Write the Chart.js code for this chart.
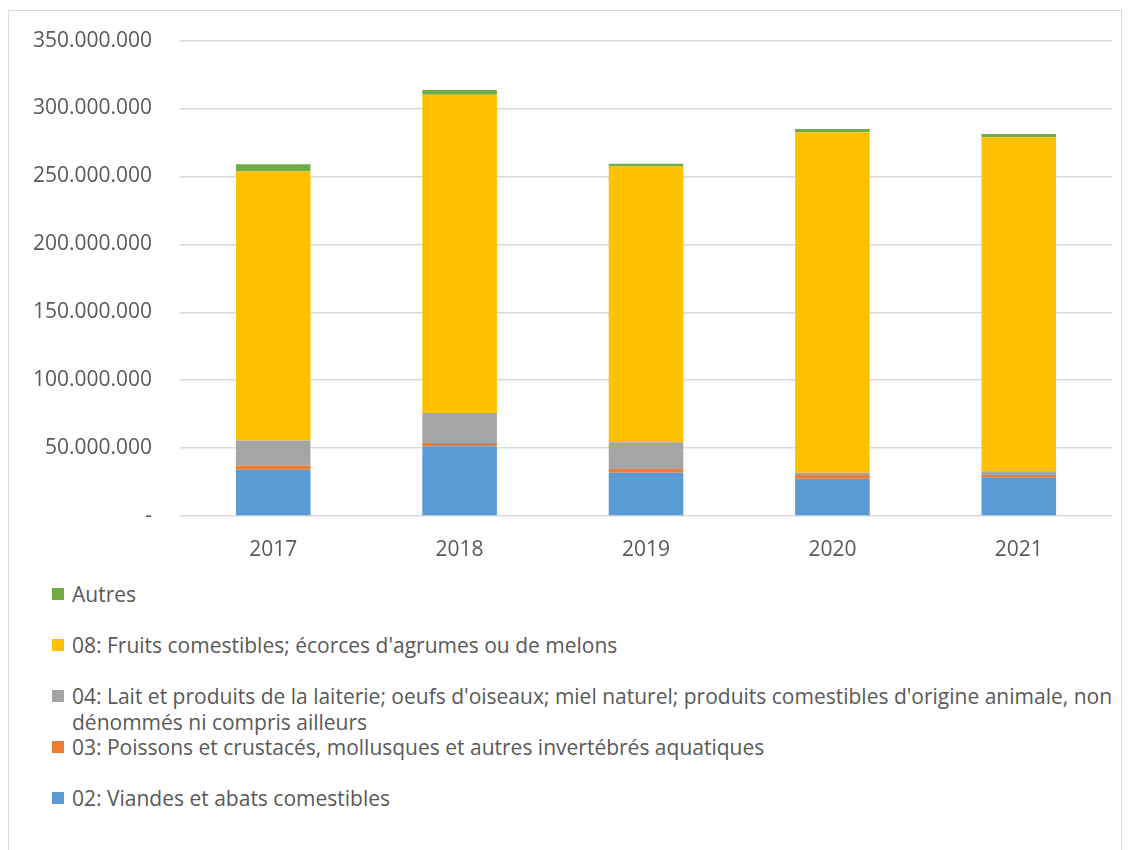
<!DOCTYPE html>
<html>
<head>
<meta charset="utf-8">
<script src="https://cdn.jsdelivr.net/npm/chart.js@4/dist/chart.umd.min.js"></script>
<style>
  html, body { margin: 0; padding: 0; background: #fff; }
  body { width: 1131px; height: 850px; position: relative; overflow: hidden; font-family: "Open Sans", sans-serif; }
  #frame { position: absolute; left: 8px; top: 10px; width: 1114px; height: 900px; border: 1px solid #d9d9d9; box-sizing: border-box; }
  #wrap { position: absolute; left: 0; top: 0; width: 1131px; height: 570px; }
  #legend { position: absolute; left: 52px; top: 581px; width: 1072px; color: #595959; font-size: 21px; }
  .item { display: flex; align-items: flex-start; height: 51px; line-height: 26px; }
  .box { flex: none; width: 12px; height: 12px; margin-top: 7px; margin-right: 8px; }
</style>
</head>
<body>
<div id="frame"></div>
<div id="wrap"><canvas id="chart"></canvas></div>
<div id="legend"></div>
<script>
var years = ["2017", "2018", "2019", "2020", "2021"];

var viandes = [34100000, 51400000, 31900000, 27500000, 28500000];
var poissons = [3000000, 2400000, 2700000, 2700000, 1700000];
var lait = [18400000, 22100000, 19700000, 1700000, 2700000];
var fruits = [198200000, 234300000, 203100000, 250600000, 245900000];
var autres = [5200000, 3500000, 2000000, 2500000, 2400000];

var seriesNames = [
  "02: Viandes et abats comestibles",
  "03: Poissons et crustacés, mollusques et autres invertébrés aquatiques",
  "04: Lait et produits de la laiterie; oeufs d'oiseaux; miel naturel; produits comestibles d'origine animale, non dénommés ni compris ailleurs",
  "08: Fruits comestibles; écorces d'agrumes ou de melons",
  "Autres"
];
var seriesColors = ["#5B9BD5", "#ED7D31", "#A5A5A5", "#FFC000", "#70AD47"];
var seriesData = [viandes, poissons, lait, fruits, autres];

function fmt(v) {
  if (v === 0) return "-";
  return String(v).replace(/\B(?=(\d{3})+(?!\d))/g, ".");
}

var datasets = seriesData.map(function(d, i) {
  return {
    label: seriesNames[i],
    data: d,
    backgroundColor: seriesColors[i],
    borderWidth: 0,
    barPercentage: 0.4,
    categoryPercentage: 1.0
  };
});

var ctx = document.getElementById("chart").getContext("2d");
var chart = new Chart(ctx, {
  type: 'bar',
  data: { labels: years, datasets: datasets },
  options: {
    responsive: true,
    maintainAspectRatio: false,
    animation: false,
    layout: { padding: { top: 30, right: 19, left: 0, bottom: 0 } },
    plugins: { legend: { display: false }, tooltip: { enabled: false } },
    scales: {
      x: {
        stacked: true,
        grid: { display: false },
        border: { display: false },
        ticks: { color: '#595959', font: { family: 'Open Sans', size: 21 }, padding: 13 },
        afterFit: function(s) { s.height = 54; }
      },
      y: {
        stacked: true,
        min: 0,
        max: 350000000,
        grid: { color: '#d9d9d9', lineWidth: 1.5, drawTicks: false },
        border: { display: false },
        ticks: {
          stepSize: 50000000,
          color: '#595959',
          font: { family: 'Open Sans', size: 21 },
          padding: 28,
          callback: function(v) { return fmt(v); }
        },
        afterFit: function(s) { s.width = 180; }
      }
    }
  }
});

// legend in reverse order, like the original
var legendEl = document.getElementById('legend');
chart.data.datasets.slice().reverse().forEach(function(ds) {
  var item = document.createElement('div');
  item.className = 'item';
  var box = document.createElement('span');
  box.className = 'box';
  box.style.background = ds.backgroundColor;
  var txt = document.createElement('span');
  txt.textContent = ds.label;
  item.appendChild(box);
  item.appendChild(txt);
  legendEl.appendChild(item);
});
</script>
</body>
</html>
